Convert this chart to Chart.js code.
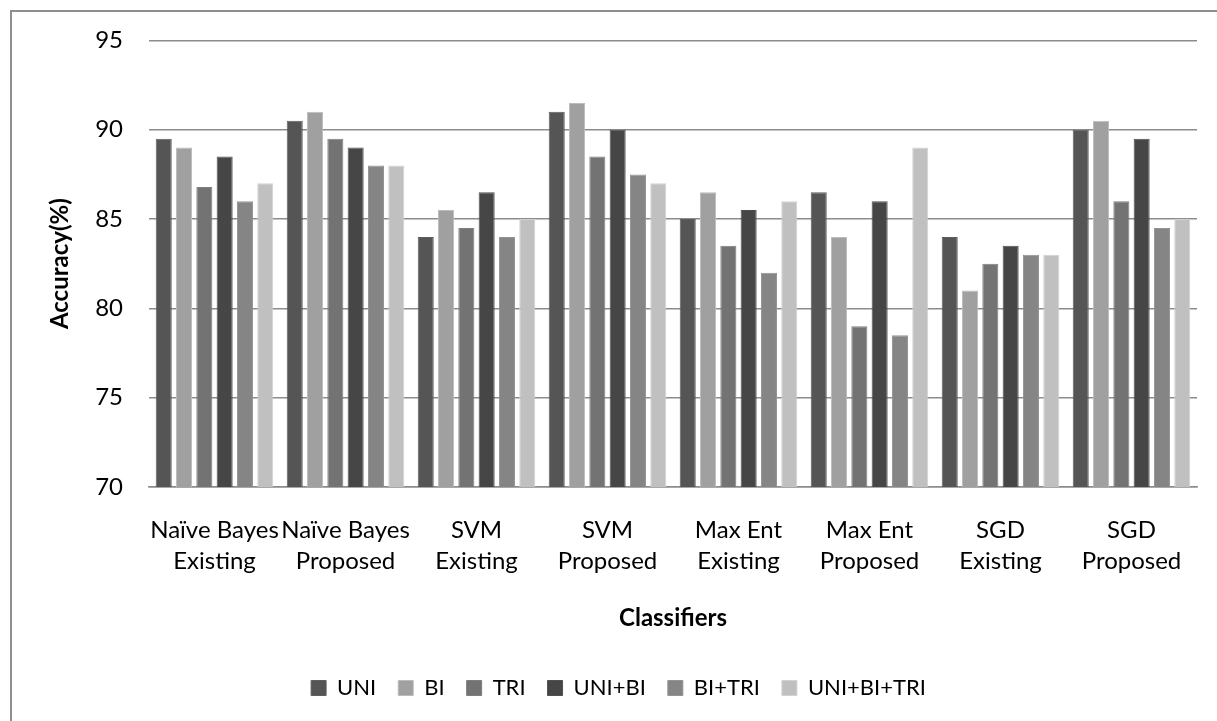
<!DOCTYPE html>
<html>
<head>
<meta charset="utf-8">
<script src="https://cdn.jsdelivr.net/npm/chart.js@4/dist/chart.umd.min.js"></script>
<style>
  html, body { margin: 0; padding: 0; background: #fff; }
  #wrap { width: 1217px; height: 721px; position: relative; }
  canvas { display: block; }
</style>
</head>
<body>
<div id="wrap"><canvas id="chart" width="1217" height="721"></canvas></div>
<script>
// Classifier accuracy (%) per n-gram feature set
const categories = [
  ["Naïve Bayes", "Existing"], ["Naïve Bayes", "Proposed"],
  ["SVM", "Existing"], ["SVM", "Proposed"],
  ["Max Ent", "Existing"], ["Max Ent", "Proposed"],
  ["SGD", "Existing"], ["SGD", "Proposed"]
];
const seriesNames = ["UNI", "BI", "TRI", "UNI+BI", "BI+TRI", "UNI+BI+TRI"];
const uni      = [89.5, 90.5, 84.0, 91.0, 85.0, 86.5, 84.0, 90.0];
const bi       = [89.0, 91.0, 85.5, 91.5, 86.5, 84.0, 81.0, 90.5];
const tri      = [86.8, 89.5, 84.5, 88.5, 83.5, 79.0, 82.5, 86.0];
const uniBi    = [88.5, 89.0, 86.5, 90.0, 85.5, 86.0, 83.5, 89.5];
const biTri    = [86.0, 88.0, 84.0, 87.5, 82.0, 78.5, 83.0, 84.5];
const uniBiTri = [87.0, 88.0, 85.0, 87.0, 86.0, 89.0, 83.0, 85.0];
const yTicks = [70, 75, 80, 85, 90, 95];

const fills   = ["#555555", "#a0a0a0", "#737373", "#464646", "#858585", "#c0c0c0"];
const edges   = ["#5e5e5e", "#bcbcbc", "#7e7e7e", "#4f4f4f", "#939393", "#d2d2d2"];
const values  = [uni, bi, tri, uniBi, biTri, uniBiTri];

const FONT = "Lato, 'Open Sans', sans-serif";

// white page with the grey frame around the chart
const framePlugin = {
  id: "frame",
  beforeDraw(chart) {
    const ctx = chart.ctx;
    ctx.save();
    ctx.fillStyle = "#ffffff";
    ctx.fillRect(0, 0, chart.width, chart.height);
    ctx.strokeStyle = "#8f8f8f";
    ctx.lineWidth = 2;
    ctx.strokeRect(11, 11, 1400, 900);
    ctx.restore();
  }
};

new Chart(document.getElementById("chart"), {
  type: "bar",
  data: {
    labels: categories,
    datasets: seriesNames.map((name, i) => ({
      label: name,
      data: values[i],
      backgroundColor: fills[i],
      borderColor: edges[i],
      borderWidth: 1,
      categoryPercentage: 0.93,
      barPercentage: 0.79
    }))
  },
  options: {
    responsive: false,
    devicePixelRatio: 1,
    animation: false,
    layout: { padding: { top: 40, right: 20, bottom: 12, left: 40 } },
    plugins: {
      tooltip: { enabled: false },
      legend: {
        position: "bottom",
        labels: {
          font: { family: FONT, size: 22 },
          color: "#000",
          boxWidth: 15,
          boxHeight: 15,
          padding: 22
        }
      }
    },
    scales: {
      x: {
        grid: { display: false, drawTicks: false },
        border: { display: true, color: "#8c8c8c", width: 1.5 },
        ticks: {
          color: "#000",
          font: { family: FONT, size: 24, lineHeight: 1.3 },
          padding: 27.4,
          maxRotation: 0,
          autoSkip: false
        },
        title: {
          display: true,
          text: "Classifiers",
          color: "#000",
          font: { family: FONT, size: 24, weight: "bold" },
          padding: { top: 0, bottom: 22.6 }
        },
        afterFit(scale) { scale.height = 168; }
      },
      y: {
        min: 70,
        max: 95,
        afterBuildTicks(scale) { scale.ticks = yTicks.map(v => ({ value: v })); },
        grid: { color: "#8c8c8c", lineWidth: 1.5, drawTicks: false },
        border: { display: false },
        ticks: {
          color: "#000",
          font: { family: FONT, size: 24 },
          padding: 26
        },
        title: {
          display: true,
          text: "Accuracy(%)",
          color: "#000",
          font: { family: FONT, size: 24, weight: "bold" },
          padding: { top: 6, bottom: 0 }
        },
        afterFit(scale) { scale.width = 109; }
      }
    }
  },
  plugins: [framePlugin]
});
</script>
</body>
</html>
